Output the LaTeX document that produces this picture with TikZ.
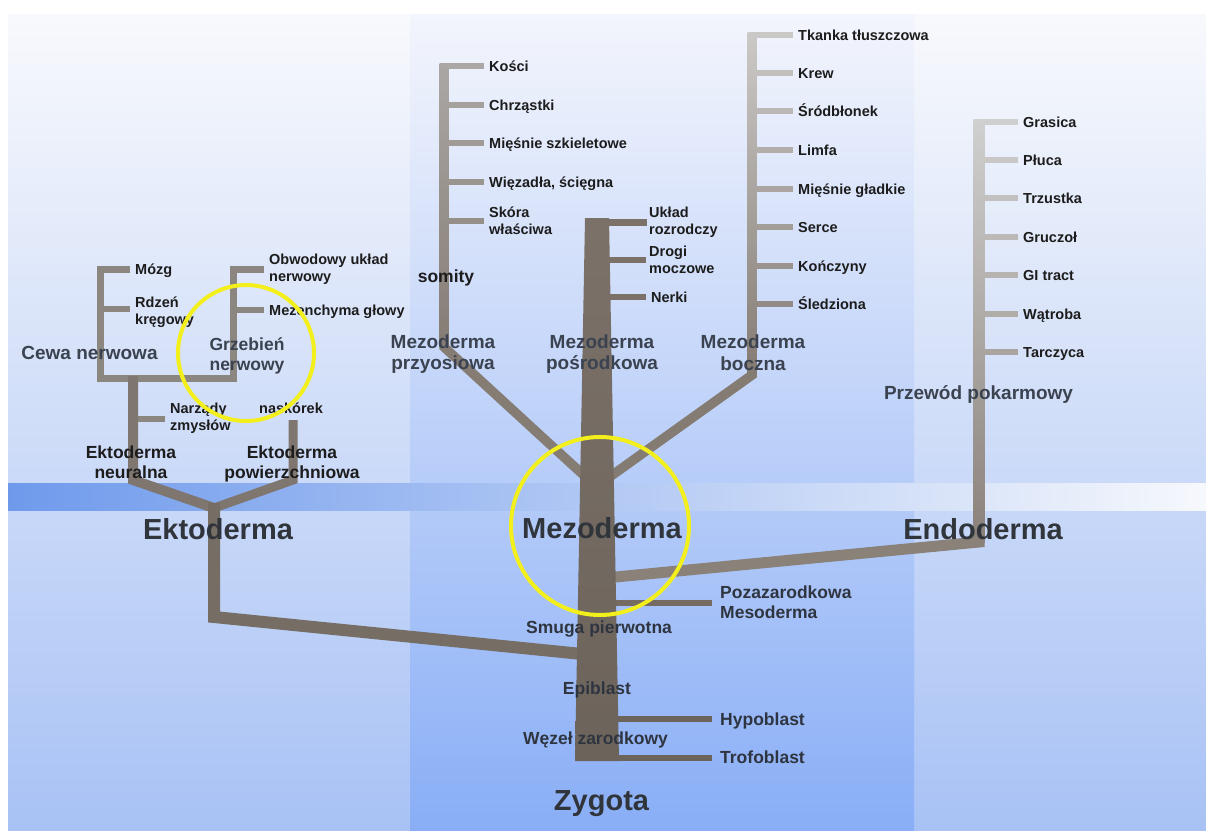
\documentclass[tikz,border=0pt]{standalone}
\usepackage{fontspec}
\setmainfont{Liberation Sans}
\usetikzlibrary{calc}
\pgfdeclarelayer{bg}
\pgfdeclarelayer{tree}
\pgfdeclarelayer{fg}
\pgfsetlayers{bg,tree,main,fg}
\definecolor{panT}{HTML}{F8F9FC}
\definecolor{panB}{HTML}{A8C2F5}
\definecolor{colT}{HTML}{F3F5FC}
\definecolor{colB}{HTML}{89AEF6}
\definecolor{bandL}{HTML}{6F9AEC}
\definecolor{bandR}{HTML}{F6F8FC}
\definecolor{trT}{HTML}{7B7169}
\definecolor{trB}{HTML}{6C635A}
\definecolor{trtick}{HTML}{756B63}
\definecolor{pxtop}{HTML}{ABA7A4}
\definecolor{pxbot}{HTML}{857C74}
\definecolor{lattop}{HTML}{CBC9C7}
\definecolor{latbot}{HTML}{847B73}
\definecolor{entop}{HTML}{D0D0D0}
\definecolor{enbot}{HTML}{8A8179}
\definecolor{ectc}{HTML}{8C8681}
\definecolor{ectm}{HTML}{7F776F}
\definecolor{ectd}{HTML}{766D65}
\definecolor{txtc}{HTML}{1C1C1C}
\definecolor{dtxt}{HTML}{2F3540}
\definecolor{mtxt}{HTML}{3B4250}
\definecolor{btxt}{HTML}{30343B}
\definecolor{yel}{HTML}{F3EF1C}
\begin{document}
\begin{tikzpicture}[x=1pt,y=-1pt,line join=miter,
  lab/.style={anchor=west,inner sep=0pt,font=\fontsize{14.5}{17}\selectfont\bfseries,text=txtc,text height=10.4pt,text depth=0pt},
  lab2/.style={anchor=west,inner sep=0pt,font=\fontsize{14.5}{17}\selectfont\bfseries,text=txtc,align=left},
  labc/.style={anchor=center,inner sep=0pt,font=\fontsize{14.5}{17}\selectfont\bfseries,text=txtc,text height=10.4pt,text depth=0pt},
  dlab/.style={inner sep=0pt,font=\fontsize{17.5}{20}\selectfont\bfseries,text=dtxt,text height=12.5pt,text depth=0pt},
  dlab2/.style={anchor=west,inner sep=0pt,font=\fontsize{17.5}{20}\selectfont\bfseries,text=dtxt,align=left},
  glab/.style={inner sep=0pt,font=\fontsize{17.5}{20.5}\selectfont\bfseries,text=mtxt,align=center},
  blk/.style={inner sep=0pt,font=\fontsize{17.5}{20}\selectfont\bfseries,text=txtc,align=center},
  mlab/.style={inner sep=0pt,font=\fontsize{19}{21.5}\selectfont\bfseries,text=mtxt,align=center},
  mlab1/.style={inner sep=0pt,font=\fontsize{19}{21.5}\selectfont\bfseries,text=mtxt,text height=13.6pt,text depth=0pt},
  big/.style={inner sep=0pt,font=\fontsize{29}{32}\selectfont\bfseries,text=btxt,text height=20.8pt,text depth=0pt},
  tk/.style={line width=6pt,shorten >=5pt},
  ring/.style={circle,draw=yel,line width=4pt,inner sep=0pt}
]
\useasboundingbox (0,0) rectangle (1206,830);

% ---------- labels ----------
% paraxial
\node[lab] (kosci) at (489,66) {Kości};
\node[lab] (chrz) at (489,105) {Chrząstki};
\node[lab] (miesz) at (489,143) {Mięśnie szkieletowe};
\node[lab] (wiez) at (489,182) {Więzadła, ścięgna};
\node[lab2] (skora) at (489,220.5) {Skóra\\właściwa};
% lateral
\node[lab] (tkanka) at (798,35) {Tkanka tłuszczowa};
\node[lab] (krew) at (798,73) {Krew};
\node[lab] (srod) at (798,111) {Śródbłonek};
\node[lab] (limfa) at (798,150) {Limfa};
\node[lab] (mgl) at (798,189) {Mięśnie gładkie};
\node[lab] (serce) at (798,227) {Serce};
\node[lab] (konc) at (798,266) {Kończyny};
\node[lab] (sledz) at (798,304) {Śledziona};
% endoderm
\node[lab] (gras) at (1023,122) {Grasica};
\node[lab] (pluca) at (1023,160) {Płuca};
\node[lab] (trz) at (1023,198) {Trzustka};
\node[lab] (gruc) at (1023,237) {Gruczoł};
\node[lab] (gi) at (1023,275) {GI tract};
\node[lab] (watr) at (1023,314) {Wątroba};
\node[lab] (tarc) at (1023,352) {Tarczyca};
% intermediate
\node[lab2] (uklad) at (649,222) {Układ\\rozrodczy};
\node[lab2] (drogi) at (649,259.5) {Drogi\\moczowe};
\node[lab] (nerki) at (651,297) {Nerki};
% ectoderm
\node[lab] (mozg) at (135,269.5) {Mózg};
\node[lab2] (rdzen) at (135,312.5) {Rdzeń\\kręgowy};
\node[lab2] (obw) at (269,269.5) {Obwodowy układ\\nerwowy};
\node[lab] (mezen) at (269,310) {Mezenchyma głowy};
\node[lab2] (narz) at (170,418.5) {Narządy\\zmysłów};
\node[labc] (nask) at (291,408) {naskórek};
\node[mlab1] (cewa) at (89.5,353) {Cewa nerwowa};
\node[glab] (grzeb) at (247,356) {Grzebień\\nerwowy};
\node[blk] (ekneu) at (131,462) {Ektoderma\\neuralna};
\node[blk] (ekpow) at (292,464) {Ektoderma\\powierzchniowa};
% mesoderm labels
\node[blk] (somity) at (446,278) {somity};
\node[mlab] (mprzy) at (443,354) {Mezoderma\\przyosiowa};
\node[mlab] (mposr) at (602,354) {Mezoderma\\pośrodkowa};
\node[mlab] (mbocz) at (753,352.5) {Mezoderma\\boczna};
\node[mlab1] (przew) at (978.5,393) {Przewód pokarmowy};
% lower
\node[dlab2] (poza) at (720,602.5) {Pozazarodkowa\\Mesoderma};
\node[dlab] (smuga) at (599,627) {Smuga pierwotna};
\node[dlab] (epi) at (597,688) {Epiblast};
\node[dlab] (wezel) at (595.5,738) {Węzeł zarodkowy};
\node[dlab,anchor=west] (hypo) at (720,719) {Hypoblast};
\node[dlab,anchor=west] (trofo) at (720,757.5) {Trofoblast};
% big
\node[big] (ekto) at (218,529) {Ektoderma};
\node[big] (mezo) at (602,528) {Mezoderma};
\node[big] (endo) at (983,529) {Endoderma};
\node[big] (zyg) at (601.5,800) {Zygota};

% ---------- background ----------
\begin{pgfonlayer}{bg}
\fill[white] (0,0) rectangle (1206,830);
\shade[top color=panT,bottom color=panB] (8,14) rectangle (1206,830);
\shade[top color=colT,bottom color=colB] (410,14) rectangle (914,830);
\shade[left color=bandL,right color=bandR] (8,483) rectangle (1206,510);
\end{pgfonlayer}

% ---------- tree ----------
\begin{pgfonlayer}{tree}
\coordinate (tBL) at (575,761);
\coordinate (tBR) at (619,761);
\coordinate (tTL) at (585,218);
\coordinate (tTR) at (609,218);
\coordinate (tC) at (597,218);
\coordinate (vL) at (590,481);
\coordinate (vR) at (604,481);
\coordinate (pxTop) at (444,63);
\coordinate (pxBend) at (444,347);
\coordinate (latTop) at (752,32);
\coordinate (latBend) at (752,375);
\coordinate (enTop) at (979,119);
\coordinate (enBend) at (979,542);
\coordinate (enEnd) at (600,578.5);
\coordinate (ecJ) at (214,508);
\coordinate (ecJtop) at (214,503);
\coordinate (ecBend) at (214,617);
\coordinate (ecEnd) at (592,655);
\coordinate (cewaTL) at (100,269.5);
\coordinate (cewaBL) at (100,378);
\coordinate (grzBR) at (233,378);
\coordinate (grzTL) at (233,269.5);
\coordinate (neuTop) at (133,376);
\coordinate (neuBend) at (133,480);
\coordinate (surTop) at (293,420);
\coordinate (surBend) at (293,480);

% paraxial
\foreach \n/\p in {kosci/1,chrz/15,miesz/28,wiez/42,skora/56}
  \draw[tk,draw=pxbot!\p!pxtop] ($(pxTop |- \n.west)+(-4.5,0)$) -- (\n.west);
\shade[top color=pxtop,bottom color=pxbot] ($(pxTop)+(-4.5,0)$) rectangle ($(pxBend)+(4.5,0)$);
\draw[line width=9.5pt,draw=pxbot] ($(pxBend)+(0,-12)$) -- (pxBend) -- (vL);
% lateral
\foreach \n/\p in {tkanka/1,krew/12,srod/23,limfa/34,mgl/46,serce/57,konc/68,sledz/79}
  \draw[tk,draw=latbot!\p!lattop] ($(latTop |- \n.west)+(-4.5,0)$) -- (\n.west);
\shade[top color=lattop,bottom color=latbot] ($(latTop)+(-4.5,0)$) rectangle ($(latBend)+(4.5,0)$);
\draw[line width=9.5pt,draw=latbot] ($(latBend)+(0,-12)$) -- (latBend) -- (vR);
% endoderm
\foreach \n/\p in {gras/1,pluca/10,trz/19,gruc/28,gi/37,watr/46,tarc/55}
  \draw[tk,draw=enbot!\p!entop] ($(enTop |- \n.west)+(-5.5,0)$) -- (\n.west);
\shade[top color=entop,bottom color=enbot] ($(enTop)+(-5.5,0)$) rectangle ($(enBend)+(5.5,0)$);
\draw[line width=11pt,draw=enbot] ($(enBend)+(0,-12)$) -- (enBend) -- (enEnd);
% ectoderm
\draw[ectc,line width=7pt] ($(mozg.west)+(-5,0)$) -- (cewaTL) -- (cewaBL) -- (grzBR) -- (grzTL) -- ($(obw.west)+(-5,0)$);
\draw[ectc,line width=6pt] ($(cewaTL |- rdzen.west)+(0,-3.5)$) -- ($(rdzen.west)+(-5,-3.5)$);
\draw[ectc,line width=6pt] (grzTL |- mezen.west) -- ($(mezen.west)+(-5,0)$);
\draw[ectc,line width=6pt] (neuTop |- narz.west) -- ($(narz.west)+(-5,0)$);
\draw[ectm,line width=10pt] (neuTop) -- (neuBend) -- (ecJ);
\draw[ectm,line width=9pt] (surTop) -- (surBend) -- (ecJ);
\draw[ectd,line width=12pt] (ecJtop) -- (ecBend) -- (ecEnd);
% trunk ticks
\draw[trT,line width=7pt,shorten >=2pt] (tC |- uklad.west) -- (uklad.west);
\draw[trT,line width=6pt,shorten >=3pt] (tC |- drogi.west) -- (drogi.west);
\draw[trT,line width=6pt,shorten >=5pt] (tC |- nerki.west) -- (nerki.west);
\draw[trtick,line width=6pt,shorten >=8pt] (tC |- poza.west) -- (poza.west);
\draw[trB,line width=6pt,shorten >=8pt] (tC |- hypo.west) -- (hypo.west);
\draw[trB,line width=6pt,shorten >=8pt] (tC |- trofo.west) -- (trofo.west);
% trunk
\shade[top color=trT,bottom color=trB] (tBL) -- (tTL) -- (tTR) -- (tBR) -- cycle;
\end{pgfonlayer}

% ---------- highlight rings ----------
\begin{pgfonlayer}{fg}
\node[ring,minimum size=136pt] (crestRing) at (246,353) {};
\node[ring,minimum size=178pt] (mesoRing) at (600,526) {};
\end{pgfonlayer}
\end{tikzpicture}
\end{document}
